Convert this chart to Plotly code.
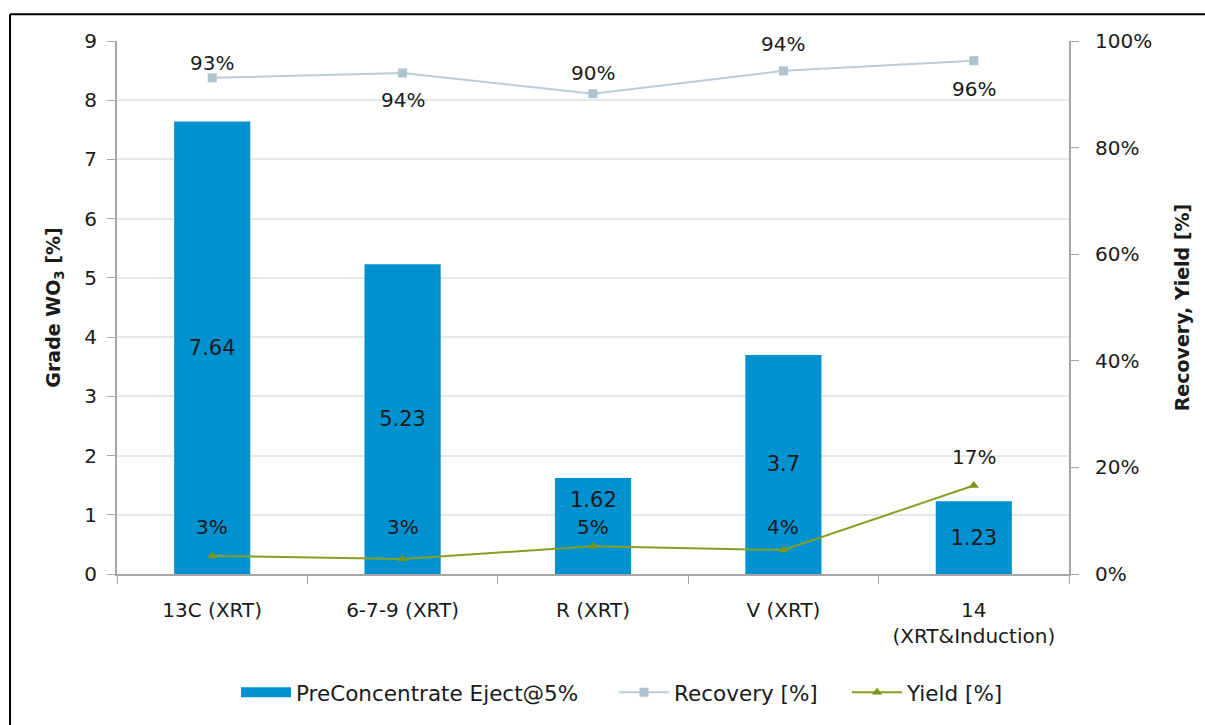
import plotly.graph_objects as go

# Sorting trials: pre-concentrate grade, recovery and mass yield per ore sample
categories = ["13C (XRT)", "6-7-9 (XRT)", "R (XRT)", "V (XRT)", "14<br>(XRT&Induction)"]
grade_wo3 = [7.64, 5.23, 1.62, 3.7, 1.23]
recovery = [0.931, 0.940, 0.901, 0.944, 0.963]
yield_pct = [0.034, 0.028, 0.052, 0.045, 0.166]

# Vertical offsets (px, up is positive) of the percentage labels from their markers
recovery_label_shift = [15, -27, 21, 27, -28]
yield_label_shift = [29, 32, 19, 23, 29]
# The R sample's grade label is placed near its bar top instead of mid-bar
bar_label_pos = ["inside", "inside", "none", "inside", "inside"]

FONT = "DejaVu Sans"
TXT = "#1a1a1a"
AXIS = "#a6a6a6"
BAR_COLOR = "#0091d0"
REC_LINE, REC_MARK = "#b9ccd7", "#aec3cf"
YLD_LINE, YLD_MARK = "#86a024", "#7a9415"

W, H = 1205, 725
L, R, T, B = 117, 136, 41, 148
pw, ph = W - L - R, H - T - B

def px_x(p):
    return (p - L) / pw

def px_y(p):
    return (H - B - p) / ph

fig = go.Figure()

fig.add_trace(go.Bar(
    x=categories, y=grade_wo3, name="PreConcentrate Eject@5%",
    marker=dict(color=BAR_COLOR, line=dict(width=0)),
    width=0.4, showlegend=False, legendgroup="grade",
    text=[f"{v:g}" for v in grade_wo3], textposition=bar_label_pos,
    insidetextanchor="middle",
    textfont=dict(family=FONT, size=21, color=TXT),
    cliponaxis=False,
))
# Wide rectangular legend key for the bars
fig.add_trace(go.Scatter(
    x=[None], y=[None], name="PreConcentrate Eject@5%", mode="lines",
    line=dict(color=BAR_COLOR, width=12), legendgroup="grade", legend="legend",
))

fig.add_trace(go.Scatter(
    x=categories, y=recovery, name="Recovery [%]", yaxis="y2",
    mode="lines+markers", legend="legend2",
    line=dict(color=REC_LINE, width=2),
    marker=dict(symbol="square", size=9, color=REC_MARK),
    cliponaxis=False,
))

fig.add_trace(go.Scatter(
    x=categories, y=yield_pct, name="Yield [%]", yaxis="y2",
    mode="lines+markers", legend="legend3",
    line=dict(color=YLD_LINE, width=2),
    marker=dict(symbol="triangle-up", size=9, color=YLD_MARK),
    cliponaxis=False,
))

label_font = dict(family=FONT, size=20, color=TXT)
for cat, v, dy in zip(categories, recovery, recovery_label_shift):
    fig.add_annotation(x=cat, y=v, yref="y2", text=f"{v:.0%}", showarrow=False,
                       yshift=dy, font=label_font)
for cat, v, dy in zip(categories, yield_pct, yield_label_shift):
    fig.add_annotation(x=cat, y=v, yref="y2", text=f"{v:.0%}", showarrow=False,
                       yshift=dy, font=label_font)

fig.add_annotation(
    x=categories[2], y=grade_wo3[2], text=f"{grade_wo3[2]:g}",
    showarrow=False, yanchor="top", yshift=-8,
    font=dict(family=FONT, size=21, color=TXT),
)

# Outer frame of the chart
fig.add_shape(type="line", xref="paper", yref="paper",
              x0=px_x(10), x1=px_x(10), y0=px_y(14), y1=px_y(740),
              line=dict(color="black", width=2))
fig.add_shape(type="line", xref="paper", yref="paper",
              x0=px_x(10), x1=px_x(1220), y0=px_y(14), y1=px_y(14),
              line=dict(color="black", width=2))

legend_style = dict(orientation="h", xanchor="left", yanchor="middle", y=px_y(696),
                    font=dict(family=FONT, size=21.5, color=TXT), itemwidth=50,
                    bgcolor="rgba(0,0,0,0)")

fig.update_layout(
    width=W, height=H,
    margin=dict(l=L, r=R, t=T, b=B),
    paper_bgcolor="white", plot_bgcolor="white",
    font=dict(family=FONT, size=20, color=TXT),
    showlegend=True,
    legend=dict(x=px_x(236), **legend_style),
    legend2=dict(x=px_x(614), **legend_style),
    legend3=dict(x=px_x(847), **legend_style),
    xaxis=dict(
        type="category", showline=True, linecolor=AXIS, linewidth=2,
        ticks="outside", tickson="boundaries", ticklen=8, tickcolor=AXIS,
        tickfont=dict(family=FONT, size=20, color=TXT), ticklabelstandoff=17,
        showgrid=False, range=[-0.5, 4.5],
    ),
    yaxis=dict(
        range=[0, 9], dtick=1, showline=True, linecolor=AXIS, linewidth=2,
        ticks="outside", ticklen=8, tickcolor=AXIS,
        tickfont=dict(family=FONT, size=20, color=TXT), ticklabelstandoff=6,
        showgrid=True, gridcolor="#e8e8e8", gridwidth=1.5, zeroline=False,
        title=dict(text="<b>Grade WO<sub>3</sub> [%]</b>", font=dict(family=FONT, size=19, color=TXT),
                   standoff=19),
    ),
    yaxis2=dict(
        overlaying="y", side="right", range=[0, 1], dtick=0.2, tickformat=".0%",
        showline=True, linecolor=AXIS, linewidth=2,
        ticks="outside", ticklen=8, tickcolor=AXIS,
        tickfont=dict(family=FONT, size=20, color=TXT), ticklabelstandoff=12,
        showgrid=False, zeroline=False,
        title=dict(text="<b>Recovery, Yield [%]</b>", font=dict(family=FONT, size=19, color=TXT),
                   standoff=25),
    ),
    bargap=0.6,
)

fig.write_html("out.html")
